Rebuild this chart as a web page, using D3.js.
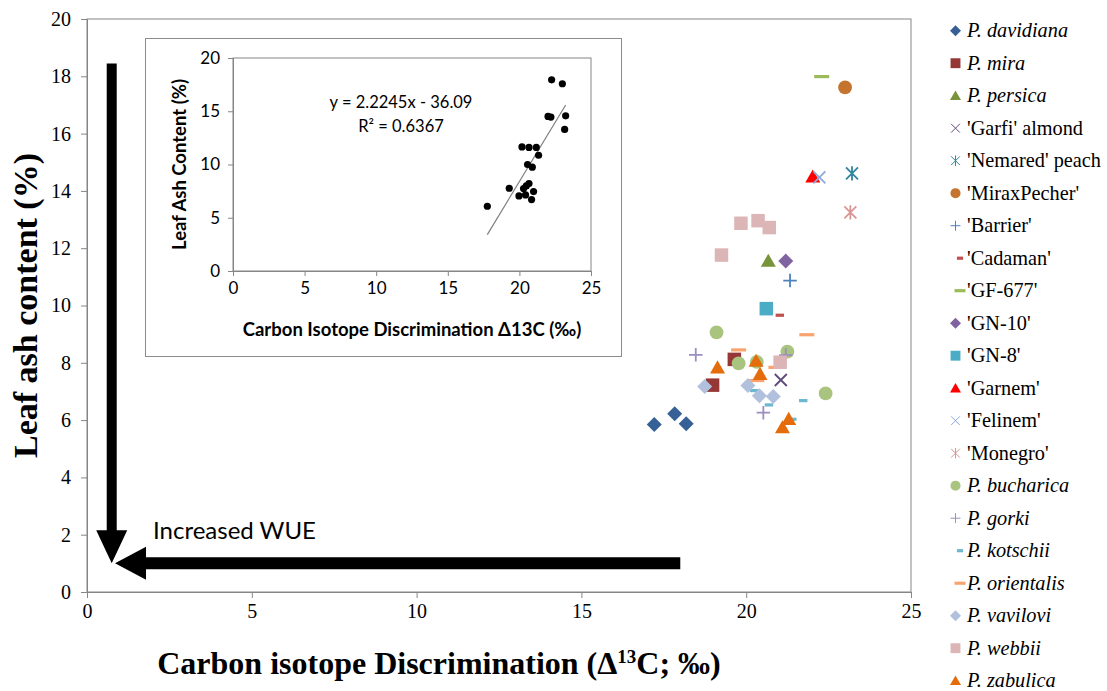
<!DOCTYPE html>
<html>
<head>
<meta charset="utf-8">
<script src="https://cdn.jsdelivr.net/npm/d3@7"></script>
<style>
  html, body { margin: 0; padding: 0; background: #fff; }
  svg { display: block; }
</style>
</head>
<body>
<div id="chart"></div>
<script>
// leaf ash content vs carbon isotope discrimination, per genotype
// main scatter + inset of genotype means with linear trend

const species = [
  "P. davidiana", "P. mira", "P. persica", "'Garfi' almond", "'Nemared' peach",
  "'MiraxPecher'", "'Barrier'", "'Cadaman'", "'GF-677'", "'GN-10'", "'GN-8'",
  "'Garnem'", "'Felinem'", "'Monegro'", "P. bucharica", "P. gorki", "P. kotschii",
  "P. orientalis", "P. vavilovi", "P. webbii", "P. zabulica"
]

// Δ13C (‰) per point, one array per genotype (same order as species)
const seriesX = [
  [17.21, 17.83, 18.18],
  [19.64, 18.98],
  [20.67],
  [21.05],
  [23.21],
  [23.0],
  [21.33],
  [21.02],
  [22.29],
  [21.2],
  [20.61],
  [22.02],
  [22.22],
  [23.16],
  [19.1, 19.77, 20.32, 21.25, 22.41],
  [18.47, 21.2, 20.52],
  [20.24, 20.69, 21.73, 21.4],
  [19.77, 21.84, 20.32, 20.9],
  [18.74, 20.05, 20.4, 20.82],
  [19.25, 19.84, 20.36, 20.7, 21.03],
  [19.13, 20.3, 20.42, 21.29, 21.1]
]

// leaf ash content (%) per point
const seriesY = [
  [5.85, 6.22, 5.87],
  [8.12, 7.22],
  [11.56],
  [7.40],
  [14.61],
  [17.61],
  [10.87],
  [9.66],
  [17.99],
  [11.55],
  [9.89],
  [14.5],
  [14.47],
  [13.25],
  [9.06, 7.98, 8.03, 8.39, 6.93],
  [8.28, 8.27, 6.26],
  [7.03, 6.53, 6.68, 6.03],
  [8.45, 8.98, 7.38, 7.84],
  [7.17, 7.21, 6.85, 6.82],
  [11.76, 12.87, 12.96, 12.72, 8.02],
  [7.84, 8.07, 7.61, 6.04, 5.75]
]

// inset: genotype means
const insetX = [22.25, 23.0, 22.0, 22.2, 23.23, 23.16, 20.18, 20.67, 21.18, 21.34, 20.57,
                20.9, 20.67, 20.48, 20.29, 19.29, 20.99, 19.97, 20.43, 20.85, 17.76]
const insetY = [17.95, 17.58, 14.51, 14.45, 14.57, 13.29, 11.65, 11.6, 11.6, 10.87, 10.0,
                9.75, 8.21, 7.99, 7.74, 7.77, 7.46, 7.05, 7.14, 6.71, 6.08]
const trendSlope = 2.2245
const trendIntercept = -36.09
const trendR2 = 0.6367

const xTicks = [0, 5, 10, 15, 20, 25]
const yTicks = [0, 2, 4, 6, 8, 10, 12, 14, 16, 18, 20]
const insetYTicks = [0, 5, 10, 15, 20]

// arrow annotations in data units: [x1, y1, x2, y2]
const arrowDown = [0.75, 18.45, 0.75, 1.0]
const arrowLeft = [18.0, 1.0, 0.85, 1.0]

// marker style per genotype (Excel-like)
const markerType = ["diamond", "square", "triangle", "x", "asterisk", "circle", "plus",
  "dashS", "dashL", "diamond", "square", "triangle", "x", "asterisk", "circle", "plus",
  "dashS", "dashL", "diamond", "square", "triangle"]
const markerColor = ["#376196", "#953735", "#77933c", "#604a7b", "#31859c", "#c4742f",
  "#4f81bd", "#c0504d", "#9bbb59", "#8064a2", "#4bacc6", "#ff0000", "#8eaadb", "#d99694",
  "#a9c47f", "#9d8ec0", "#6db8d1", "#f9a46e", "#b1c1dd", "#dcb5b7", "#e46c0a"]

const W = 1107, H = 691
const serif = "'Liberation Serif', 'Times New Roman', serif"
const sans = "Lato, 'Open Sans', sans-serif"
const axisGray = "#868686"

const svg = d3.select("#chart").append("svg")
  .attr("width", W).attr("height", H)

// main plot area
const x = d3.scaleLinear().domain([0, 25]).range([87, 911])
const y = d3.scaleLinear().domain([0, 20]).range([592, 19])

svg.append("rect")
  .attr("x", x(0)).attr("y", y(20))
  .attr("width", x(25) - x(0)).attr("height", y(0) - y(20))
  .attr("fill", "none").attr("stroke", axisGray).attr("stroke-width", 1)

const gx = svg.append("g")
  .attr("transform", `translate(0,${y(0)})`)
  .call(d3.axisBottom(x).tickValues(xTicks).tickSize(6).tickPadding(6))
const gy = svg.append("g")
  .attr("transform", `translate(${x(0)},0)`)
  .call(d3.axisLeft(y).tickValues(yTicks).tickSize(6).tickPadding(10))

;[gx, gy].forEach(g => {
  g.select(".domain").attr("stroke", axisGray)
  g.selectAll(".tick line").attr("stroke", axisGray)
  g.selectAll(".tick text")
    .style("font-family", serif).style("font-size", "20px").attr("fill", "#000")
})

// axis titles
svg.append("text")
  .attr("transform", `translate(37,${(y(0) + y(20)) / 2}) rotate(-90)`)
  .attr("text-anchor", "middle")
  .style("font-family", serif).style("font-size", "34px").style("font-weight", "bold")
  .text("Leaf ash content (%)")

const xt = svg.append("text")
  .attr("x", 439).attr("y", 674)
  .attr("text-anchor", "middle")
  .style("font-family", serif).style("font-size", "32px").style("font-weight", "bold")
xt.append("tspan").text("Carbon isotope Discrimination (Δ")
xt.append("tspan").attr("dy", -11).style("font-size", "19px").text("13")
xt.append("tspan").attr("dy", 11).text("C; ‰)")

// big arrows
function arrow(a, shaft, headW, headL) {
  const x1 = x(a[0]), y1 = y(a[1]), x2 = x(a[2]), y2 = y(a[3])
  const ang = Math.atan2(y2 - y1, x2 - x1)
  const len = Math.hypot(x2 - x1, y2 - y1)
  const g = svg.append("g")
    .attr("transform", `translate(${x1},${y1}) rotate(${ang * 180 / Math.PI})`)
  g.append("path")
    .attr("d", `M0,${-shaft / 2}L${len - headL},${-shaft / 2}L${len - headL},${-headW / 2}` +
      `L${len},0L${len - headL},${headW / 2}L${len - headL},${shaft / 2}L0,${shaft / 2}Z`)
    .attr("fill", "#000")
}
arrow(arrowDown, 10, 31, 33)
arrow(arrowLeft, 12, 33, 31)

svg.append("text")
  .attr("x", 153).attr("y", 539)
  .style("font-family", sans).style("font-size", "24px")
  .text("Increased WUE")

// marker shapes
function markerPath(type, s) {
  const p = d3.path(), h = s / 2
  if (type === "diamond") {
    p.moveTo(0, -h); p.lineTo(h, 0); p.lineTo(0, h); p.lineTo(-h, 0); p.closePath()
  } else if (type === "square") {
    const q = s * 0.45
    p.rect(-q, -q, 2 * q, 2 * q)
  } else if (type === "triangle") {
    p.moveTo(0, -h * 0.95); p.lineTo(h, h * 0.8); p.lineTo(-h, h * 0.8); p.closePath()
  } else if (type === "circle") {
    p.arc(0, 0, s * 0.46, 0, 2 * Math.PI)
  } else if (type === "x") {
    const q = s * 0.4
    p.moveTo(-q, -q); p.lineTo(q, q); p.moveTo(q, -q); p.lineTo(-q, q)
  } else if (type === "asterisk") {
    const q = s * 0.4
    p.moveTo(-q, -q); p.lineTo(q, q); p.moveTo(q, -q); p.lineTo(-q, q)
    p.moveTo(0, -h * 0.95); p.lineTo(0, h * 0.95)
  } else if (type === "plus") {
    const q = s * 0.45
    p.moveTo(-q, 0); p.lineTo(q, 0); p.moveTo(0, -q); p.lineTo(0, q)
  } else if (type === "dashS") {
    p.rect(-s * 0.28, -1.6, s * 0.56, 3.2)
  } else if (type === "dashL") {
    p.rect(-h, -1.6, s, 3.2)
  }
  return p.toString()
}
const stroked = t => t === "x" || t === "asterisk" || t === "plus"

function styleMarker(sel, i, sw) {
  const t = markerType[i], c = markerColor[i]
  sel.attr("fill", stroked(t) ? "none" : c)
    .attr("stroke", stroked(t) ? c : "none")
    .attr("stroke-width", sw)
}

// data points
const gPts = svg.append("g")
species.forEach((name, i) => {
  const pts = seriesX[i].map((v, j) => [v, seriesY[i][j]])
  gPts.append("g").selectAll("path")
    .data(pts).join("path")
    .attr("transform", d => `translate(${x(d[0])},${y(d[1])})`)
    .attr("d", markerPath(markerType[i], 15))
    .call(styleMarker, i, 1.8)
})

// legend
const legend = svg.append("g")
species.forEach((name, i) => {
  const cy = 30.7 + 32.5 * i
  const t = markerType[i]
  const mx = (t === "dashS" || t === "dashL") ? 960 : 955.5
  legend.append("path")
    .attr("transform", `translate(${mx},${cy})`)
    .attr("d", markerPath(t, 11))
    .call(styleMarker, i, 1)
  legend.append("text")
    .attr("x", 967).attr("y", cy + 6.5)
    .style("font-family", serif).style("font-size", "20.3px")
    .style("font-style", name.startsWith("P.") ? "italic" : "normal")
    .text(name)
})

// ---- inset ----
svg.append("rect")
  .attr("x", 145.5).attr("y", 38.5).attr("width", 476).attr("height", 318)
  .attr("fill", "#fff").attr("stroke", "#8c8c8c").attr("stroke-width", 1)

const ix = d3.scaleLinear().domain([0, 25]).range([233, 591])
const iy = d3.scaleLinear().domain([0, 20]).range([271, 58])

svg.append("rect")
  .attr("x", ix(0)).attr("y", iy(20))
  .attr("width", ix(25) - ix(0)).attr("height", iy(0) - iy(20))
  .attr("fill", "none").attr("stroke", axisGray)

const igx = svg.append("g")
  .attr("transform", `translate(0,${iy(0)})`)
  .call(d3.axisBottom(ix).tickValues(xTicks).tickSize(5).tickPadding(6))
const igy = svg.append("g")
  .attr("transform", `translate(${ix(0)},0)`)
  .call(d3.axisLeft(iy).tickValues(insetYTicks).tickSize(5).tickPadding(8))

;[igx, igy].forEach(g => {
  g.select(".domain").attr("stroke", axisGray)
  g.selectAll(".tick line").attr("stroke", axisGray)
  g.selectAll(".tick text")
    .style("font-family", sans).style("font-size", "17px").attr("fill", "#000")
})

svg.append("text")
  .attr("transform", `translate(186,${(iy(0) + iy(20)) / 2}) rotate(-90)`)
  .attr("text-anchor", "middle")
  .style("font-family", sans).style("font-size", "18.5px").style("font-weight", "bold")
  .text("Leaf Ash Content (%)")

svg.append("text")
  .attr("x", 412).attr("y", 336)
  .attr("text-anchor", "middle")
  .style("font-family", sans).style("font-size", "18.5px").style("font-weight", "bold")
  .text("Carbon Isotope Discrimination Δ13C (‰)")

// trend line across the range of the means
const [tx0, tx1] = d3.extent(insetX)
svg.append("line")
  .attr("x1", ix(tx0)).attr("y1", iy(trendSlope * tx0 + trendIntercept))
  .attr("x2", ix(tx1)).attr("y2", iy(trendSlope * tx1 + trendIntercept))
  .attr("stroke", "#7f7f7f").attr("stroke-width", 1.2)

svg.append("g").selectAll("circle")
  .data(insetX.map((v, i) => [v, insetY[i]]))
  .join("circle")
  .attr("cx", d => ix(d[0])).attr("cy", d => iy(d[1]))
  .attr("r", 3.6).attr("fill", "#000")

svg.append("text")
  .attr("x", 401).attr("y", 108)
  .attr("text-anchor", "middle")
  .style("font-family", sans).style("font-size", "16.5px")
  .text(`y = ${trendSlope}x - ${-trendIntercept}`)
svg.append("text")
  .attr("x", 401).attr("y", 132)
  .attr("text-anchor", "middle")
  .style("font-family", sans).style("font-size", "16.5px")
  .text(`R² = ${trendR2}`)
</script>
</body>
</html>
